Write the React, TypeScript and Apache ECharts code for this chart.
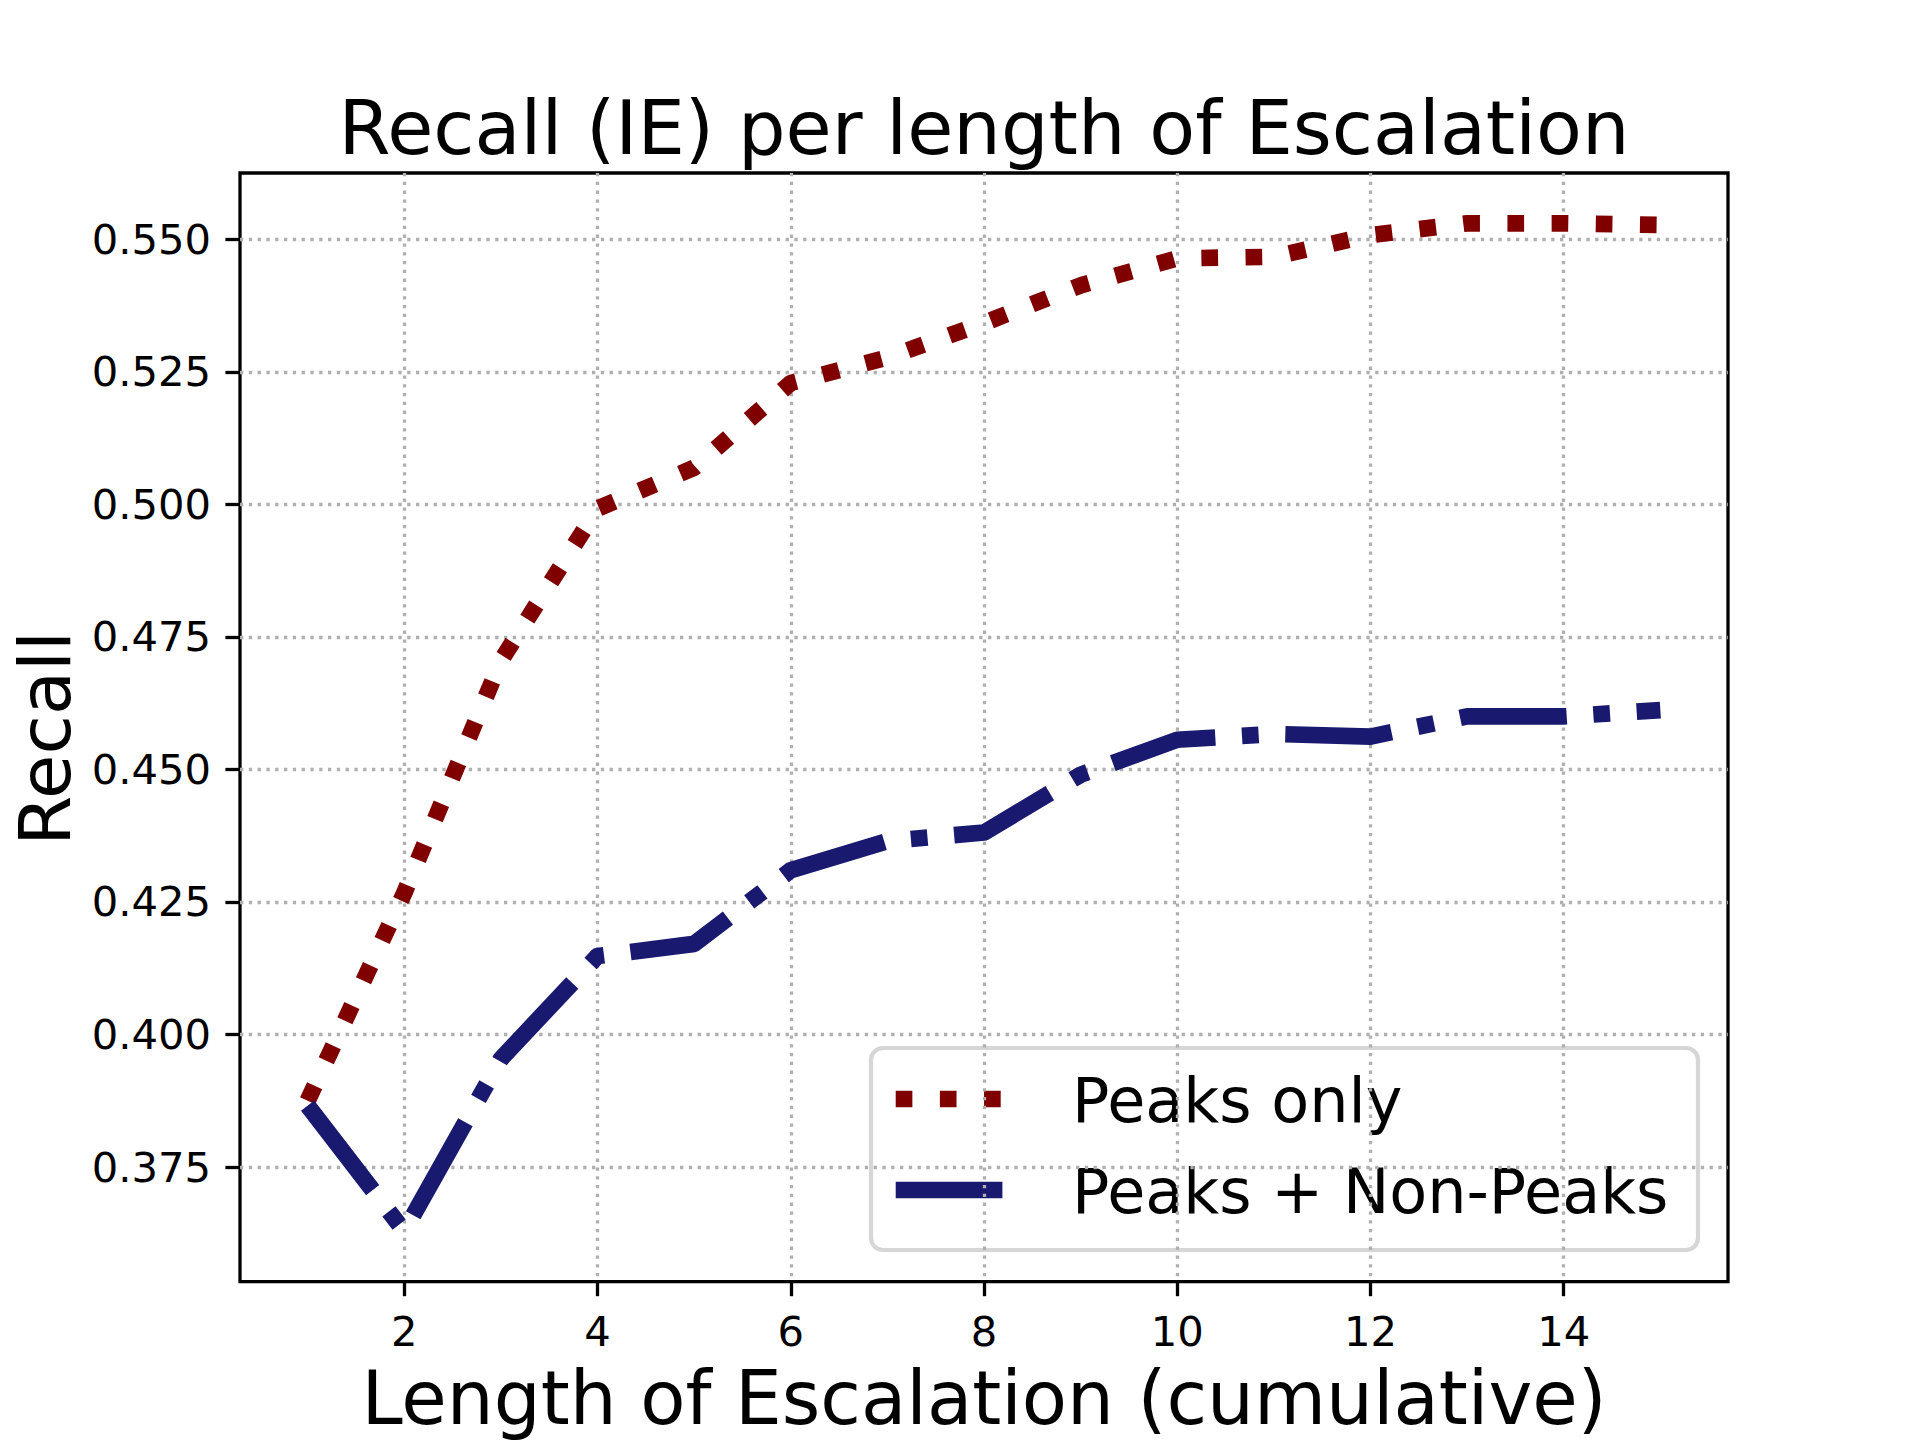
import React, { useEffect, useRef } from "react";
import * as echarts from "echarts";

const titleText = "Recall (IE) per length of Escalation";
const xAxisTitle = "Length of Escalation (cumulative)";
const yAxisTitle = "Recall";
const seriesNames = ["Peaks only", "Peaks + Non-Peaks"];
const escalationLength = [1, 2, 3, 4, 5, 6, 7, 8, 9, 10, 11, 12, 13, 14, 15];
const peaksOnly = [0.3875, 0.4267, 0.4705, 0.4992, 0.5069, 0.5229, 0.5277, 0.5342, 0.5413, 0.5464, 0.5467, 0.5508, 0.553, 0.553, 0.5527];
const peaksNonPeaks = [0.3866, 0.3629, 0.3954, 0.4148, 0.4171, 0.431, 0.4365, 0.4381, 0.449, 0.4556, 0.4567, 0.4562, 0.46, 0.46, 0.4612];
const xTicks = [2, 4, 6, 8, 10, 12, 14];
const yTicks = [0.375, 0.4, 0.425, 0.45, 0.475, 0.5, 0.525, 0.55];

const FONT = "DejaVu Sans";
const LW = 16.67;
const DOTTED = [16.67, 27.5];
const DASHDOT = [106.7, 26.7, 16.7, 26.7];
const RED = "#800000";
const BLUE = "#191970";

export default function App() {
  const ref = useRef<HTMLDivElement>(null);
  useEffect(() => {
    if (!ref.current) return;
    const chart = echarts.init(ref.current, null, { renderer: "svg" });
    const gridLine = { show: true, lineStyle: { color: "#b0b0b0", width: 3.3, type: [3.3, 5.5] } };
    const toPairs = (ys: number[]) => escalationLength.map((x, i) => [x, ys[i]]);
    chart.setOption({
      animation: false,
      backgroundColor: "#ffffff",
      title: {
        text: titleText,
        left: 984,
        top: 90,
        padding: 0,
        textAlign: "center",
        textStyle: { fontFamily: FONT, fontSize: 75, fontWeight: "normal", color: "#000", lineHeight: 75 },
      },
      grid: {
        left: 240,
        right: 192,
        top: 173,
        bottom: 158.4,
        containLabel: false,
        outerBoundsMode: "none",
        show: true,
        borderColor: "#000",
        borderWidth: 3.3,
        backgroundColor: "transparent",
      },
      xAxis: {
        type: "value",
        min: 0.3,
        max: 15.7,
        name: xAxisTitle,
        nameLocation: "middle",
        nameGap: 116,
        nameTextStyle: { fontFamily: FONT, fontSize: 74, color: "#000", verticalAlign: "middle", lineHeight: 56 },
        axisLine: { show: false },
        axisTick: { show: true, inside: false, length: 14.6, lineStyle: { color: "#000", width: 3.3 }, customValues: xTicks },
        axisLabel: { fontFamily: FONT, fontSize: 41.7, color: "#000", margin: 29, customValues: xTicks, formatter: (v: number) => String(v) },
        splitLine: gridLine,
      },
      yAxis: {
        type: "value",
        min: 0.3534,
        max: 0.5625,
        name: yAxisTitle,
        nameLocation: "middle",
        nameGap: 195,
        nameRotate: 90,
        nameTextStyle: { fontFamily: FONT, fontSize: 72, color: "#000", verticalAlign: "middle", lineHeight: 56, padding: [0, 22, 0, 0] },
        axisLine: { show: false },
        axisTick: { show: true, inside: false, length: 14.6, lineStyle: { color: "#000", width: 3.3 }, customValues: yTicks },
        axisLabel: { fontFamily: FONT, fontSize: 41.7, color: "#000", margin: 29, customValues: yTicks, formatter: (v: number) => v.toFixed(3) },
        splitLine: gridLine,
      },
      series: [
        {
          name: seriesNames[0],
          type: "line",
          data: toPairs(peaksOnly),
          showSymbol: false,
          symbol: "none",
          z: 3,
          lineStyle: { color: RED, width: LW, type: DOTTED, cap: "butt", join: "round" },
        },
        {
          name: seriesNames[1],
          type: "line",
          data: toPairs(peaksNonPeaks),
          showSymbol: false,
          symbol: "none",
          z: 3,
          lineStyle: { color: BLUE, width: LW, type: DASHDOT, cap: "butt", join: "round" },
        },
      ],
      graphic: [
        {
          type: "group",
          z: 100,
          children: [
            {
              type: "rect",
              shape: { x: 871, y: 1048, width: 827, height: 202, r: 12 },
              style: { fill: "rgba(255,255,255,0.8)", stroke: "rgba(204,204,204,0.8)", lineWidth: 4.2 },
            },
            {
              type: "line",
              shape: { x1: 895.7, y1: 1099, x2: 1002.6, y2: 1099 },
              style: { stroke: RED, lineWidth: LW, lineDash: DOTTED, lineCap: "butt" },
            },
            {
              type: "line",
              shape: { x1: 895.7, y1: 1190, x2: 1002.6, y2: 1190 },
              style: { stroke: BLUE, lineWidth: LW, lineDash: DASHDOT, lineCap: "butt" },
            },
            {
              type: "text",
              x: 1072,
              y: 1100,
              style: { text: seriesNames[0], fontFamily: FONT, fontSize: 62, fill: "#000", align: "left", verticalAlign: "middle" },
            },
            {
              type: "text",
              x: 1072,
              y: 1191,
              style: { text: seriesNames[1], fontFamily: FONT, fontSize: 62, fill: "#000", align: "left", verticalAlign: "middle" },
            },
          ],
        },
      ],
    });
    return () => chart.dispose();
  }, []);
  return <div ref={ref} style={{ position: "absolute", left: 0, top: 0, width: 1920, height: 1440 }} />;
}
